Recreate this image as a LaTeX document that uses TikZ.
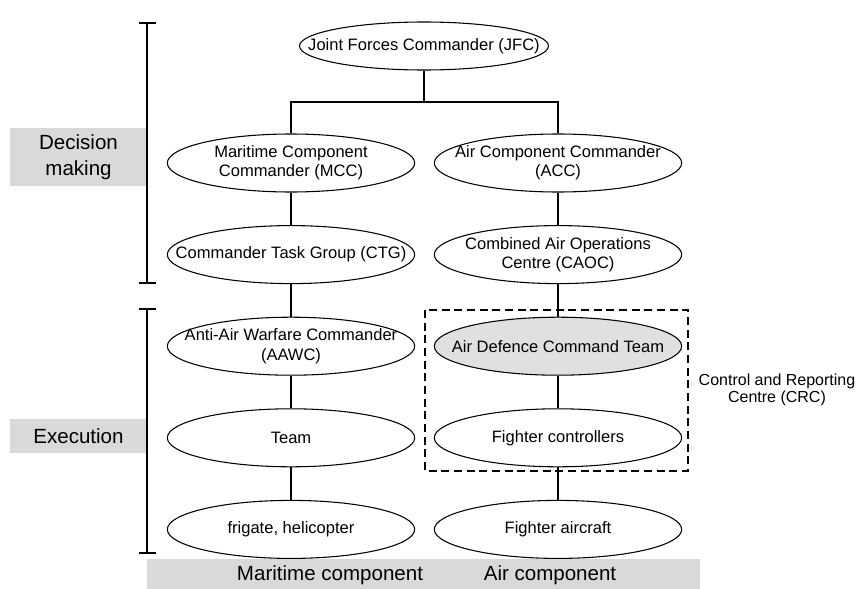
\documentclass[tikz,border=0pt]{standalone}
\usepackage{fontspec}
\setmainfont{Liberation Sans}
\usepackage{tikz}
\usetikzlibrary{positioning,shapes.geometric}
\definecolor{Band}{HTML}{D9D9D9}
\definecolor{Shade}{HTML}{E0E0E0}
\tikzset{
  role/.style={ellipse,draw=black,line width=0.8pt,fill=white,inner xsep=-60pt,inner ysep=0pt,
    minimum width=185.5pt,minimum height=43.5pt,align=center,
    font=\fontsize{12.4}{14.3}\selectfont},
  roleshade/.style={role,fill=Shade},
  link/.style={draw=black,line width=0.8pt},
  band/.style={fill=Band,draw=none,inner sep=0pt,align=center,
    font=\fontsize{15.4}{19.5}\selectfont},
  bracket/.style={draw=black,line width=0.9pt},
  crcbox/.style={draw=black,line width=1.1pt,dash pattern=on 6pt off 3.5pt}
}

\begin{document}
\begin{tikzpicture}[x=0.75pt,y=-0.75pt,node distance=24.4pt]
  \useasboundingbox (0,0) rectangle (857,589);
  % command levels
  \node[role,minimum width=186.75pt,minimum height=36pt] (jfc) at (424,46) {Joint Forces Commander (JFC)};
  \node[role] (mcc) at (291,163) {Maritime Component\\Commander (MCC)};
  \node[role] (acc) at (558,163) {Air Component Commander\\(ACC)};
  \node[role,below=of mcc] (ctg) {Commander Task Group (CTG)};
  \node[role,below=of acc] (caoc) {Combined Air Operations\\Centre (CAOC)};
  \node[role,below=of ctg] (aawc) {Anti-Air Warfare Commander\\(AAWC)};
  \node[roleshade,below=of caoc] (adct) {Air Defence Command Team};
  \node[role,below=of aawc] (team) {Team};
  \node[role,below=of adct] (fc) {Fighter controllers};
  \node[role,below=of team] (frig) {frigate, helicopter};
  \node[role,below=of fc] (fa) {Fighter aircraft};
  \coordinate (split) at (424,102);
  \draw[link] (jfc) -- (split);
  \draw[link] (mcc.north) |- (split) -| (acc.north);
  \draw[link] (mcc) -- (ctg);
  \draw[link] (ctg) -- (aawc);
  \draw[link] (aawc) -- (team);
  \draw[link] (team) -- (frig);
  \draw[link] (acc) -- (caoc);
  \draw[link] (caoc) -- (adct);
  \draw[link] (adct) -- (fc);
  \draw[link] (fc) -- (fa);
  % CRC
  \draw[crcbox] (425,310) rectangle (688,471);
  \node[align=center,font=\fontsize{12}{12.5}\selectfont] (crc) at (777,390) {Control and Reporting\\Centre (CRC)};
  % phases
  \node[band,minimum width=102.75pt,minimum height=43.5pt] (decide) at (78.5,157) {Decision\\making};
  \node[band,minimum width=102.75pt,minimum height=25.5pt] (exec) at (78.5,436) {Execution};
  \draw[bracket] (147,23) -- (147,283);
  \draw[bracket] (139,23) -- (156,23);
  \draw[bracket] (139,283) -- (156,283);
  \draw[bracket] (147,309) -- (147,553);
  \draw[bracket] (139,309) -- (156,309);
  \draw[bracket] (139,553) -- (156,553);
  % components
  \fill[Band] (147,559) rectangle (700,589);
  \node[font=\fontsize{15.4}{19.5}\selectfont] (mar) at (330,575) {Maritime component};
  \node[font=\fontsize{15.4}{19.5}\selectfont] (air) at (550,575) {Air component};
\end{tikzpicture}
\end{document}
